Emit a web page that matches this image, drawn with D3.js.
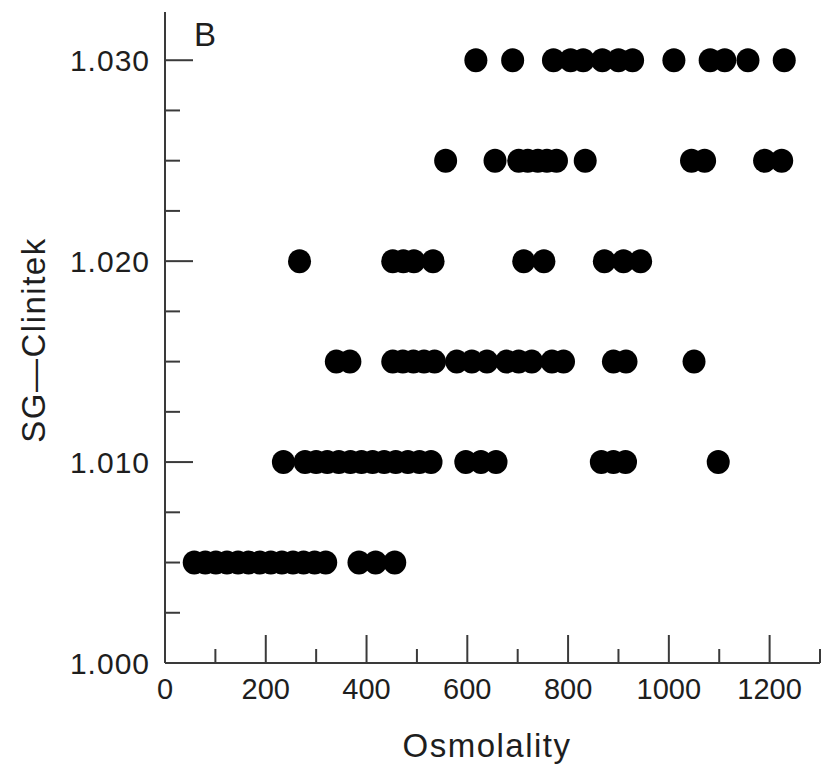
<!DOCTYPE html>
<html>
<head>
<meta charset="utf-8">
<script src="https://cdn.jsdelivr.net/npm/d3@7"></script>
<style>
  html, body { margin: 0; padding: 0; background: #ffffff; }
  svg { display: block; }
</style>
</head>
<body>
<svg id="chart" width="823" height="767"></svg>
<script>
// ---- data ----
const sgLevels = [1.005, 1.010, 1.015, 1.020, 1.025, 1.030];
const osm1005 = [58, 80, 101, 123, 145, 166, 188, 210, 232, 254, 275, 297, 319, 385, 418, 456];
const osm1010 = [235, 278, 300, 322, 345, 368, 390, 412, 435, 458, 482, 505, 528, 597, 627, 657, 866, 890, 914, 1098];
const osm1015 = [340, 367, 452, 472, 493, 514, 535, 579, 609, 639, 678, 702, 728, 768, 791, 890, 915, 1050];
const osm1020 = [267, 452, 473, 494, 532, 712, 752, 872, 910, 944];
const osm1025 = [557, 655, 702, 720, 740, 758, 777, 834, 1045, 1071, 1190, 1224];
const osm1030 = [617, 690, 771, 805, 830, 868, 900, 928, 1010, 1082, 1111, 1157, 1229];
const osmBySg = [osm1005, osm1010, osm1015, osm1020, osm1025, osm1030];

const xTickLabels = [0, 200, 400, 600, 800, 1000, 1200];
const yTickLabels = [1.000, 1.010, 1.020, 1.030];
const xTitle = "Osmolality";
const yTitle = "SG\u2014Clinitek";
const panelLabel = "B";

// ---- layout ----
const svg = d3.select("#chart");
const mLeft = 165, mRight = 820, mTop = 12, mBottom = 663;

const x = d3.scaleLinear().domain([0, 1300]).range([mLeft, mRight]);
const y = d3.scaleLinear().domain([1.000, 1.0324]).range([mBottom, mTop]);

const axisColor = "#3a3a3a";
const textColor = "#1e1e1e";
const fontFam = "'Liberation Sans', Arial, Helvetica, sans-serif";

// points
const points = [];
sgLevels.forEach((sg, i) => osmBySg[i].forEach(o => points.push({ osm: o, sg: sg })));

svg.append("g")
  .selectAll("ellipse")
  .data(points)
  .join("ellipse")
  .attr("cx", d => x(d.osm))
  .attr("cy", d => y(d.sg))
  .attr("rx", 11.5)
  .attr("ry", 12)
  .attr("fill", "#000");

// x axis: inward ticks
const xMinor = d3.range(0, 1301, 100);
const xAxisG = svg.append("g").attr("transform", `translate(0,${mBottom})`);
xAxisG.append("line")
  .attr("x1", x(0)).attr("x2", x(1300))
  .attr("y1", 0).attr("y2", 0)
  .attr("stroke", axisColor).attr("stroke-width", 2);
xAxisG.selectAll("line.tick")
  .data(xMinor)
  .join("line")
  .attr("class", "tick")
  .attr("x1", d => x(d)).attr("x2", d => x(d))
  .attr("y1", 0)
  .attr("y2", d => (d % 200 === 0 ? -28 : -14))
  .attr("stroke", axisColor).attr("stroke-width", 2);
xAxisG.selectAll("text")
  .data(xTickLabels)
  .join("text")
  .attr("x", d => x(d))
  .attr("y", 36)
  .attr("text-anchor", "middle")
  .attr("font-family", fontFam)
  .attr("font-size", 29)
  .attr("fill", textColor)
  .text(d => d);

// y axis: inward ticks
const yMinor = d3.range(0, 13).map(k => 1.000 + k * 0.0025);
const yAxisG = svg.append("g").attr("transform", `translate(${mLeft},0)`);
yAxisG.append("line")
  .attr("x1", 0).attr("x2", 0)
  .attr("y1", y(1.0324)).attr("y2", y(1.000))
  .attr("stroke", axisColor).attr("stroke-width", 2);
yAxisG.selectAll("line.tick")
  .data(yMinor)
  .join("line")
  .attr("class", "tick")
  .attr("x1", 0)
  .attr("x2", (d, i) => (i % 4 === 0 ? 28 : 15))
  .attr("y1", d => y(d)).attr("y2", d => y(d))
  .attr("stroke", axisColor).attr("stroke-width", 2);
yAxisG.selectAll("text")
  .data(yTickLabels)
  .join("text")
  .attr("x", -15)
  .attr("y", d => y(d))
  .attr("dy", "0.36em")
  .attr("text-anchor", "end")
  .attr("font-family", fontFam)
  .attr("font-size", 30)
  .attr("letter-spacing", 1)
  .attr("fill", textColor)
  .text(d => d3.format(".3f")(d));

// titles
svg.append("text")
  .attr("x", 487)
  .attr("y", 757)
  .attr("text-anchor", "middle")
  .attr("font-family", fontFam)
  .attr("font-size", 33)
  .attr("letter-spacing", 1.5)
  .attr("fill", textColor)
  .text(xTitle);

svg.append("text")
  .attr("transform", `translate(45,340) rotate(-90)`)
  .attr("text-anchor", "middle")
  .attr("font-family", fontFam)
  .attr("font-size", 33)
  .attr("letter-spacing", 1.5)
  .attr("fill", textColor)
  .text(yTitle);

svg.append("text")
  .attr("x", 194)
  .attr("y", 46)
  .attr("font-family", fontFam)
  .attr("font-size", 33)
  .attr("fill", textColor)
  .text(panelLabel);
</script>
</body>
</html>
